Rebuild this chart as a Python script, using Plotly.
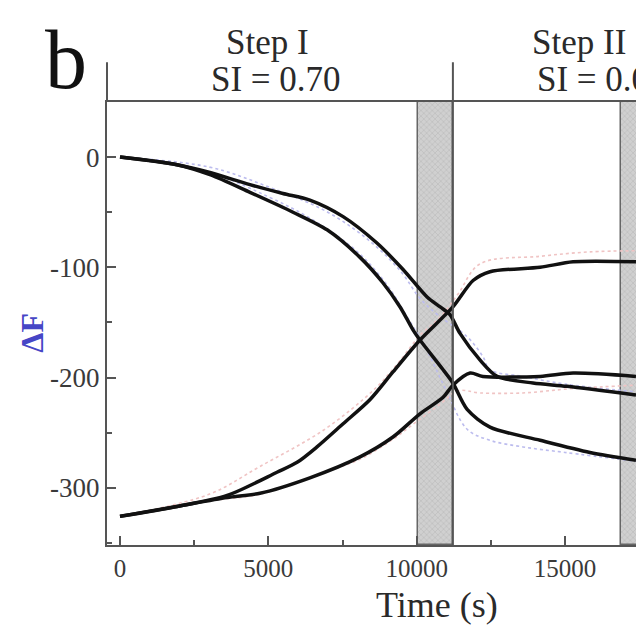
import plotly.graph_objects as go

# ---- data ----
# fitted curves (black)
t_d_upper = [0, 1920, 3030, 4380, 5490, 6400, 7520, 8660, 9540, 10350, 10790, 11120,
             11460, 12130, 12710, 13920, 15070, 17390]
f_d_upper = [0, -7, -14, -25, -33, -39, -54, -78, -102, -127, -136, -143,
             -160, -184, -199, -205, -208, -216]

t_d_lower = [0, 1920, 3030, 4380, 5830, 6980, 8090, 8860, 9440, 9880, 10110, 10890, 11220,
             11700, 12470, 14160, 15840, 17390]
f_d_lower = [0, -7, -16, -32, -50, -66, -91, -114, -136, -157, -166, -193, -205,
             -229, -245, -257, -268, -275]

t_r_upper = [0, 1920, 3610, 5290, 5970, 6640, 7520, 8430, 9200, 10110, 11220,
             11900, 12470, 14160, 15270, 17390]
f_r_upper = [-326, -317, -307, -286, -277, -263, -242, -220, -195, -166, -136,
             -112, -104, -100, -95, -95]

t_r_lower = [0, 1920, 3610, 4720, 6400, 8090, 9200, 10110, 10890, 11220,
             11800, 12230, 14160, 15270, 17390]
f_r_lower = [-326, -317, -309, -305, -291, -272, -254, -233, -218, -207,
             -196, -199, -199, -196, -199]

# measured data (faint dotted)
t_blue_1 = [0, 3000, 5000, 7000, 8500, 9500, 10100, 10700, 11700, 12230, 12470, 13580, 15000, 17390]
f_blue_1 = [0, -9, -27, -50, -78, -105, -128, -143, -163, -181, -193, -199, -206, -213]
t_blue_2 = [0, 3000, 5000, 6500, 8000, 9000, 9700, 10300, 11000, 11700, 12470, 13580, 15000, 17390]
f_blue_2 = [0, -14, -36, -57, -86, -116, -146, -173, -212, -247, -257, -263, -268, -276]
t_red_1 = [0, 3000, 4700, 6900, 8600, 9400, 10100, 10800, 11400, 12130, 14160, 15840, 17390]
f_red_1 = [-326, -306, -281, -247, -210, -186, -162, -145, -124, -97, -90, -86, -85]
t_red_2 = [0, 3000, 4700, 6900, 8100, 9200, 10000, 10800, 11400, 12130, 13580, 15270, 17390]
f_red_2 = [-326, -312, -306, -286, -274, -256, -240, -224, -212, -214, -214, -210, -207]

band_start = [10040, 16880]
band_end = [11220, 18100]
divider_x = [11220]

x_tickvals = [0, 5000, 10000, 15000]
x_ticktext = ["0", "5000", "10000", "15000"]
y_tickvals = [0, -100, -200, -300]
y_ticktext = ["0", "-100", "-200", "-300"]

x_range = [-438, 17391]
y_range = [-352, 50]

AX = "#555555"
SERIF = "Liberation Serif"
TXT = "#2a2a2a"

fig = go.Figure()

# shaded bands
fig.add_trace(go.Bar(
    x=[(s + e) / 2 for s, e in zip(band_start, band_end)],
    y=[y_range[1] - y_range[0]] * len(band_start),
    base=[y_range[0]] * len(band_start),
    width=[e - s for s, e in zip(band_start, band_end)],
    marker=dict(color="#cfcfcf",
                line=dict(color="#666666", width=1.5),
                pattern=dict(shape="x", fgcolor="#a0a0a0", bgcolor="#d0d0d0",
                             size=4, solidity=0.25)),
    showlegend=False, hoverinfo="skip"))

# dotted measured data
for tx, fy, col in [(t_blue_1, f_blue_1, "#bcbcee"), (t_blue_2, f_blue_2, "#bcbcee"),
                    (t_red_1, f_red_1, "#f0c4c4"), (t_red_2, f_red_2, "#f0c4c4")]:
    fig.add_trace(go.Scatter(x=tx, y=fy, mode="lines",
                             line=dict(color=col, width=1.6, dash="dot", shape="spline"),
                             showlegend=False, hoverinfo="skip"))

# fitted curves
for tx, fy in [(t_d_upper, f_d_upper), (t_d_lower, f_d_lower),
               (t_r_upper, f_r_upper), (t_r_lower, f_r_lower)]:
    fig.add_trace(go.Scatter(x=tx, y=fy, mode="lines",
                             line=dict(color="#111111", width=3.5, shape="spline", smoothing=0.8),
                             showlegend=False, hoverinfo="skip"))

# header lines
fig.add_shape(type="line", xref="paper", yref="paper", x0=0, x1=0, y0=1, y1=1.09,
              line=dict(color=AX, width=2))
for dx in divider_x:
    fig.add_shape(type="line", xref="x", yref="paper", x0=dx, x1=dx, y0=0, y1=1.09,
                  line=dict(color=AX, width=2))

ann_font = dict(family=SERIF, size=35, color=TXT)
fig.add_annotation(text="Step I", x=0.304, y=1.135, xref="paper", yref="paper",
                   showarrow=False, font=ann_font, xanchor="center", yanchor="middle")
fig.add_annotation(text="SI = 0.70", x=0.319, y=1.050, xref="paper", yref="paper",
                   showarrow=False, font=ann_font, xanchor="center", yanchor="middle")
fig.add_annotation(text="Step II", x=0.892, y=1.135, xref="paper", yref="paper",
                   showarrow=False, font=ann_font, xanchor="center", yanchor="middle")
fig.add_annotation(text="SI = 0.02", x=0.810, y=1.050, xref="paper", yref="paper",
                   showarrow=False, font=ann_font, xanchor="left", yanchor="middle")
fig.add_annotation(text="b", x=-0.078, y=1.097, xref="paper", yref="paper",
                   showarrow=False, font=dict(family=SERIF, size=84, color="#111111"),
                   xanchor="center", yanchor="middle")
fig.add_annotation(text="<b>ΔF</b>", x=-0.142, y=0.479, xref="paper", yref="paper",
                   showarrow=False, textangle=-90,
                   font=dict(family=SERIF, size=32, color="#4646c6"),
                   xanchor="center", yanchor="middle")
fig.add_annotation(text="Time (s)", x=0.624, y=-0.135, xref="paper", yref="paper",
                   showarrow=False, font=dict(family=SERIF, size=36, color=TXT),
                   xanchor="center", yanchor="middle")

fig.update_layout(
    width=636, height=630,
    margin=dict(l=107, r=0, t=102, b=85),
    paper_bgcolor="white", plot_bgcolor="white",
    barmode="overlay", bargap=0,
    showlegend=False,
    xaxis=dict(range=x_range, showgrid=False, zeroline=False,
               showline=True, linecolor=AX, linewidth=2, mirror=True,
               tickmode="array", tickvals=x_tickvals, ticktext=x_ticktext,
               ticks="inside", ticklen=9, tickwidth=2, tickcolor=AX,
               minor=dict(dtick=2500, tick0=0, ticks="inside", ticklen=5, tickwidth=2, tickcolor=AX),
               tickfont=dict(family=SERIF, size=25, color="#3a3a3a")),
    yaxis=dict(range=y_range, showgrid=False, zeroline=False,
               showline=True, linecolor=AX, linewidth=2,
               tickmode="array", tickvals=y_tickvals, ticktext=y_ticktext,
               ticks="inside", ticklen=9, tickwidth=2, tickcolor=AX,
               minor=dict(dtick=50, tick0=0, ticks="inside", ticklen=5, tickwidth=2, tickcolor=AX),
               tickfont=dict(family=SERIF, size=27, color="#3a3a3a")),
)

fig.write_html("out.html")
